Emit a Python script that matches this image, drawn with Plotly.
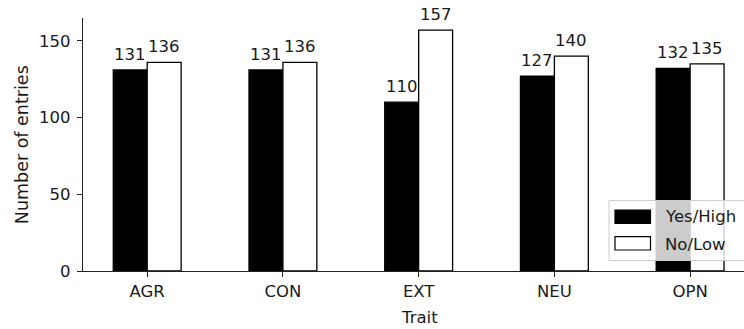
import plotly.graph_objects as go

traits = ["AGR", "CON", "EXT", "NEU", "OPN"]
yes_high = [131, 131, 110, 127, 132]
no_low = [136, 136, 157, 140, 135]
series_names = ["Yes/High", "No/Low"]
y_ticks = [0, 50, 100, 150]

W, H = 744, 329
ML, MR, MT, MB = 83, 0, 18, 58
PW, PH = W - ML - MR, H - MT - MB
BAR_OFFSET = 0.125  # half of bar width (bar width 0.25)

def px(x):
    return (x - ML) / PW

def py(y):
    return (H - MB - y) / PH

FONT = "DejaVu Sans"
TXT = "#1a1a1a"
xs = list(range(len(traits)))
fig = go.Figure()
fig.add_trace(go.Bar(x=xs, y=yes_high, name=series_names[0],
                     marker=dict(color="black", line=dict(color="black", width=1.3)),
                     showlegend=False))
fig.add_trace(go.Bar(x=xs, y=no_low, name=series_names[1],
                     marker=dict(color="white", line=dict(color="black", width=1.3)),
                     showlegend=False))

# value labels above bars
for vals, sign in [(yes_high, -1), (no_low, 1)]:
    for xi, v in zip(xs, vals):
        fig.add_annotation(x=xi + sign * BAR_OFFSET, y=v, text=str(v), xref="x", yref="y",
                           xanchor="center", yanchor="bottom", yshift=4, showarrow=False,
                           font=dict(family=FONT, size=16.5, color=TXT))

ymax = max(max(yes_high), max(no_low)) * 1.05
fig.update_layout(
    width=W, height=H, margin=dict(l=ML, r=MR, t=MT, b=MB),
    plot_bgcolor="white", paper_bgcolor="white",
    barmode="group", bargap=0.5, bargroupgap=0,
    font=dict(family=FONT, size=16, color=TXT),
    xaxis=dict(range=[-0.473, 4.397], tickvals=xs, ticktext=traits,
               showgrid=False, zeroline=False, showline=True, linecolor="#222", linewidth=1.2,
               ticks="outside", ticklen=5, tickwidth=1.2, tickcolor="#222",
               tickfont=dict(family=FONT, size=16.5, color=TXT)),
    yaxis=dict(range=[0, ymax], tickvals=y_ticks, showgrid=False, zeroline=False,
               showline=True, linecolor="#222", linewidth=1.2,
               ticks="outside", ticklen=5, tickwidth=1.2, tickcolor="#222",
               ticklabelstandoff=3,
               tickfont=dict(family=FONT, size=16.5, color=TXT)),
)

# axis titles
fig.add_annotation(text="Number of entries", xref="paper", yref="paper", x=0, y=0.5,
                   xanchor="center", yanchor="middle", xshift=21.7 - ML, textangle=-90,
                   showarrow=False, font=dict(family=FONT, size=17.5, color=TXT))
fig.add_annotation(text="Trait", xref="paper", yref="paper", x=px(419.5), y=0,
                   xanchor="center", yanchor="middle", yshift=-46,
                   showarrow=False, font=dict(family=FONT, size=16.5, color=TXT))

# legend (matplotlib style)
fig.add_shape(type="rect", xref="paper", yref="paper", x0=px(609), x1=px(760),
              y0=py(260.5), y1=py(200.5), layer="above",
              fillcolor="rgba(255,255,255,0.8)", line=dict(color="#cccccc", width=1))
fig.add_shape(type="rect", xref="paper", yref="paper", x0=px(615), x1=px(650.5),
              y0=py(223.3), y1=py(210), layer="above",
              fillcolor="black", line=dict(color="black", width=1.2))
fig.add_shape(type="rect", xref="paper", yref="paper", x0=px(615), x1=px(650.5),
              y0=py(250), y1=py(236.7), layer="above",
              fillcolor="white", line=dict(color="black", width=1.2))
for name, yc in zip(series_names, [216.5, 244.5]):
    fig.add_annotation(text=name, xref="paper", yref="paper", x=px(663), y=py(yc),
                       xanchor="left", yanchor="middle", showarrow=False,
                       font=dict(family=FONT, size=16.5, color=TXT))

fig.write_html("out.html")
